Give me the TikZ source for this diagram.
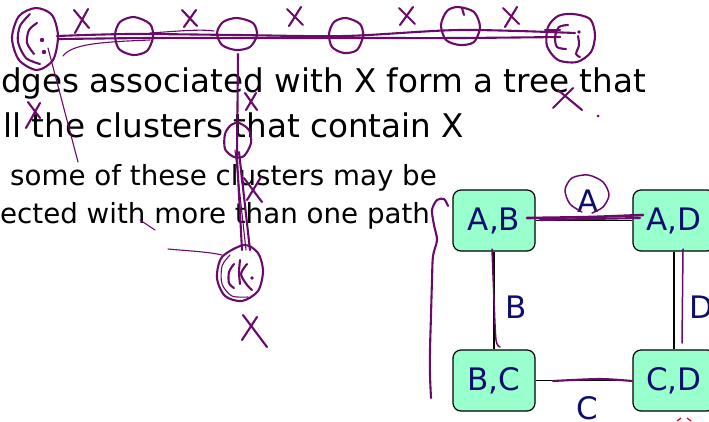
\documentclass[tikz,border=0pt]{standalone}
\usepackage{fontspec}
\setmainfont{DejaVu Sans}
\definecolor{ink}{RGB}{105,12,105}
\definecolor{navy}{RGB}{14,14,110}
\definecolor{mint}{RGB}{153,255,204}
\tikzset{
  pen/.style={draw=ink, line width=2.1pt, line cap=round, line join=round},
  thinpen/.style={draw=ink, line width=1.1pt, line cap=round, line join=round},
  cluster/.style={draw=black, line width=1.2pt, fill=mint, rounded corners=8pt,
    minimum width=82pt, minimum height=61pt, inner sep=0pt, text=navy,
    font=\fontsize{31}{31}\selectfont},
  sep/.style={draw=black, line width=1.2pt},
  seplabel/.style={text=navy, inner sep=0pt, font=\fontsize{31}{31}\selectfont},
  bigline/.style={anchor=base west, inner sep=0pt, font=\fontsize{32.6}{33}\selectfont},
  smallline/.style={anchor=base west, inner sep=0pt, font=\fontsize{27.7}{28}\selectfont}
}
\begin{document}
\begin{tikzpicture}[x=1pt,y=-1pt]
\useasboundingbox (0,0) rectangle (709,421);
\clip (0,0) rectangle (709,421);
\fill[white] (0,0) rectangle (709,421);

% slide text
\node[bigline] (l1) at (1,92) {dges associated with X form a tree that};
\node[bigline] (l2) at (3,137) {ll the clusters that contain X};
\node[smallline] (l3) at (10,185) {some of these clusters may be};
\node[smallline] (l4) at (0,223) {ected with more than one path};

% cluster graph
\node[cluster] (ab) at (494,220.5) {A,B};
\node[cluster] (ad) at (674,220.5) {A,D};
\node[cluster] (bc) at (494,380.5) {B,C};
\node[cluster] (cd) at (674,380.5) {C,D};
\draw[sep] (ab) -- (ad);
\draw[sep] (ab) -- (bc);
\draw[sep] (bc) -- (cd);
\draw[sep] (ad) -- (cd);
\node[seplabel] (la) at (588,201) {A};
\node[seplabel] (lb) at (516,307) {B};
\node[seplabel] (lc) at (587,408) {C};
\node[seplabel] (ld) at (701,307) {D};

% red fragment at the lower edge
\draw[red, line width=1.3pt] (677,421) -- (681,418);
\draw[red, line width=1.3pt] (687,418) -- (691,421);

% ---- handwritten ink ----
% cluster C_i (left)
\draw[pen] plot[smooth cycle] coordinates {(36,8) (52,15) (58,36) (53,60) (37,70) (19,60) (12,38) (19,16)};
\draw[pen] plot[smooth] coordinates {(30,14) (20,26) (18,42) (26,58) (40,64)};
\draw[pen] plot[smooth] coordinates {(37,23) (29,30) (27,43) (34,54)};
\fill[ink] (42,40) circle (2.2);
\fill[ink] (44,52) circle (2.2);

% long chain of clusters along the top
\draw[pen] plot[smooth] coordinates {(57,36) (130,34) (237,35) (345,36) (460,30) (575,33)};
\draw[pen] plot[smooth] coordinates {(59,39) (150,38) (237,38) (360,38) (460,38) (560,37)};
\draw[thinpen] (63,56) .. controls (72,44) and (100,42) .. (150,40);
\draw[thinpen] (150,33) .. controls (180,31) and (200,29) .. (214,31);
\draw[pen] (545,30) -- (560,30);
\draw[pen] (545,37) -- (560,37);

\draw[pen] plot[smooth cycle] coordinates {(134,17) (150,24) (153,37) (147,51) (133,55) (119,49) (115,35) (120,22)};
\draw[pen] plot[smooth cycle] coordinates {(237,18) (253,23) (257,35) (250,47) (236,50) (222,45) (217,33) (223,22)};
\draw[pen] plot[smooth cycle] coordinates {(346,18) (360,24) (363,36) (357,50) (344,53) (332,47) (329,34) (334,22)};
\draw[pen] plot[smooth cycle] coordinates {(458,7) (474,12) (480,27) (474,42) (460,45) (446,40) (441,25) (447,11)};
\draw[pen] (462,8) -- (464,15);

% cluster C_j (right)
\draw[pen] plot[smooth cycle] coordinates {(573,14) (590,19) (595,35) (591,52) (577,62) (558,60) (547,46) (548,27) (558,16)};
\draw[pen] plot[smooth] coordinates {(568,25) (559,27) (555,37) (557,47) (566,49)};
\draw[pen] plot[smooth] coordinates {(578,36) (579,45) (576,54) (580,57)};
\fill[ink] (579,32) circle (1.8);

% branch down to C_k
\draw[pen] (238,54) -- (237,158) -- (242,250);
\draw[pen] (239,152) -- (250,250);
\draw[thinpen] (235,150) -- (246,250);
\draw[pen] plot[smooth cycle] coordinates {(239,123) (249,130) (251,143) (244,156) (234,157) (225,149) (225,134) (231,125)};
\draw[pen] plot[smooth cycle] coordinates {(244,245) (258,253) (263,271) (258,291) (242,301) (225,296) (217,278) (222,257)};
\draw[thinpen] plot[smooth] coordinates {(230,255) (222,266) (222,284) (232,296) (248,297)};
\draw[pen] plot[smooth] coordinates {(234,264) (229,272) (229,283) (234,288)};
\draw[pen] plot[smooth] coordinates {(240,260) (239,272) (240,284)};
\draw[pen] plot[smooth] coordinates {(247,264) (241,274) (247,285) (252,290)};
\fill[ink] (252,278) circle (1.8);

% X marks
\draw[pen] (74,10) -- (89,28);  \draw[pen] (88,9) -- (75,33);
\draw[pen] (182,10) -- (197,26); \draw[pen] (196,10) -- (184,27);
\draw[pen] (287,9) -- (303,25);  \draw[pen] (301,7) -- (289,26);
\draw[pen] (399,8) -- (415,24);  \draw[pen] (413,7) -- (400,25);
\draw[pen] (503,8) -- (519,24);  \draw[pen] (517,7) -- (505,27);
\draw[pen] (558,90) -- (582,110); \draw[pen] (573,88) -- (553,108);
\fill[ink] (598,116) circle (1.5);
\draw[pen] (28,102) -- (40,118); \draw[pen] (40,103) -- (26,128);
\draw[pen] (245,93) -- (257,110); \draw[pen] (256,93) -- (246,110);
\draw[pen] (244,178) -- (262,202); \draw[pen] (261,177) -- (247,200);
\draw[pen] (243,315) -- (267,347); \draw[pen] (257,317) -- (242,340);

% loose strokes
\draw[thinpen] (48,48) -- (78,162);
\draw[thinpen] (140,220) -- (155,230);
\draw[thinpen] (168,249) .. controls (190,251) and (210,252) .. (222,255);

% brace beside the cluster graph
\draw[pen] plot[smooth] coordinates {(448,206) (444,199) (437,200) (432,210) (434,225) (437,240) (433,256) (432,280) (431,315) (430,350) (430,375) (431,398)};

% ink over the cluster graph
\draw[pen, line width=2.6pt] plot[smooth] coordinates {(527,218) (590,217) (643,215)};
\draw[pen] (540,220) -- (640,218);
\draw[thinpen, line width=1.5pt] plot[smooth] coordinates {(592,213) (603,207) (609,195) (603,182) (588,175) (572,178) (565,190) (570,204) (582,212)};
\draw[pen, line width=1.5pt] plot[smooth] coordinates {(492,249) (494,300) (496,340) (500,347)};
\draw[pen, line width=1.5pt] (683,249) -- (682,343);
\draw[pen] plot[smooth] coordinates {(553,381) (600,379) (632,381)};
\end{tikzpicture}
\end{document}
